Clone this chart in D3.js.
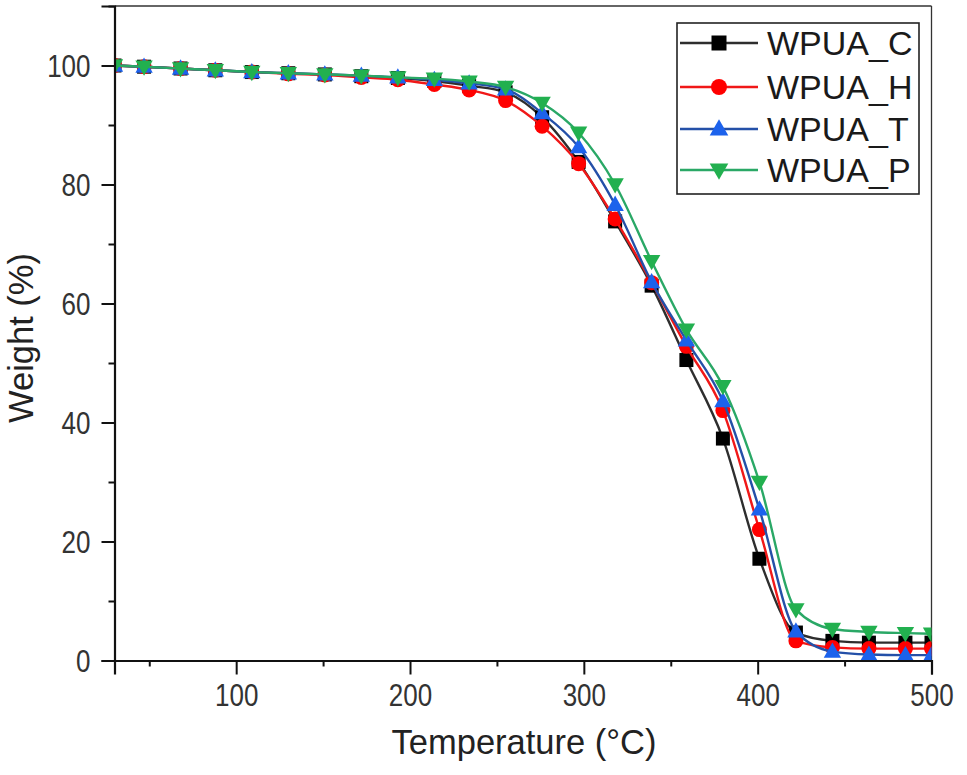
<!DOCTYPE html>
<html>
<head>
<meta charset="utf-8">
<script src="https://cdn.jsdelivr.net/npm/d3@7"></script>
<style>
  html, body { margin: 0; padding: 0; background: #fff; }
  svg { display: block; font-family: "Liberation Sans", Arial, sans-serif; }
</style>
</head>
<body>
<svg id="chart" width="967" height="775"></svg>
<script>
// ---- data ----
const temps  = [30, 47, 68, 88, 109, 130, 151, 172, 193, 214, 234, 255, 276, 297, 318, 339, 359, 380, 401, 422, 443, 464, 485, 500];
const wpuaC  = [100, 99.8, 99.5, 99.2, 98.9, 98.7, 98.5, 98.2, 97.9, 97.4, 96.6, 95.5, 91.3, 83.8, 73.8, 63.0, 50.5, 37.3, 17.1, 4.7, 3.3, 3.0, 3.0, 3.0];
const wpuaH  = [100, 99.8, 99.5, 99.2, 98.9, 98.6, 98.4, 98.0, 97.6, 96.8, 95.9, 94.1, 89.8, 83.5, 74.2, 63.5, 52.8, 42.0, 22.0, 3.3, 2.2, 2.0, 2.0, 2.0];
const wpuaT  = [100, 99.8, 99.5, 99.2, 98.9, 98.7, 98.5, 98.3, 98.0, 97.6, 97.0, 96.0, 92.0, 86.3, 76.6, 63.6, 53.8, 43.6, 25.4, 4.9, 1.5, 1.0, 0.9, 0.9];
const wpuaP  = [100, 99.8, 99.5, 99.2, 98.9, 98.7, 98.5, 98.3, 98.0, 97.8, 97.3, 96.4, 93.7, 88.7, 80.0, 67.1, 55.6, 46.1, 30.0, 8.6, 5.3, 4.8, 4.6, 4.5];
const seriesNames = ["WPUA_C", "WPUA_H", "WPUA_T", "WPUA_P"];
const xTicks = [100, 200, 300, 400, 500];
const xMinor = [50, 150, 250, 350, 450];
const yTicks = [0, 20, 40, 60, 80, 100];
const yMinor = [10, 30, 50, 70, 90, 110];

const seriesValues = [wpuaC, wpuaH, wpuaT, wpuaP];
const lineColors   = ["#2e2e2e", "#f01818", "#2450a8", "#2aa866"];
const markerColors = ["#000000", "#ff0000", "#1c62ec", "#22b04f"];
const markerTypes  = ["square", "circle", "triangle", "down"];

// ---- layout ----
const svg = d3.select("#chart");
const L = 114.5, R = 931.5, T = 6, B = 660.5;
const x = d3.scaleLinear().domain([30, 500]).range([L, R]);
const y = d3.scaleLinear().domain([0, 110]).range([B, T]);

svg.append("defs").append("clipPath").attr("id", "plotclip")
  .append("rect").attr("x", L).attr("y", T).attr("width", R - L).attr("height", B - T);

// frame top/right
svg.append("line").attr("x1", L).attr("x2", R).attr("y1", T).attr("y2", T)
  .attr("stroke", "#333").attr("stroke-width", 1.3);
svg.append("line").attr("x1", R).attr("x2", R).attr("y1", T).attr("y2", B)
  .attr("stroke", "#333").attr("stroke-width", 1.3);

// ---- series ----
const lineGen = d3.line()
  .x((d, i) => x(temps[i]))
  .y(d => y(d))
  .curve(d3.curveMonotoneX);

function drawMarker(g, type, cx, cy, color, s) {
  if (type === "square") {
    g.append("rect").attr("x", cx - s / 2).attr("y", cy - s / 2).attr("width", s).attr("height", s).attr("fill", color);
  } else if (type === "circle") {
    g.append("circle").attr("cx", cx).attr("cy", cy).attr("r", s / 2 + 0.5).attr("fill", color);
  } else if (type === "triangle") {
    const h = s * 1.05;
    g.append("path").attr("d", `M${cx},${cy - h * 0.62}L${cx + s * 0.62},${cy + h * 0.42}L${cx - s * 0.62},${cy + h * 0.42}Z`).attr("fill", color);
  } else {
    const h = s * 1.05;
    g.append("path").attr("d", `M${cx},${cy + h * 0.62}L${cx + s * 0.62},${cy - h * 0.42}L${cx - s * 0.62},${cy - h * 0.42}Z`).attr("fill", color);
  }
}

const plot = svg.append("g").attr("clip-path", "url(#plotclip)");
seriesValues.forEach((vals, si) => {
  const g = plot.append("g");
  g.append("path").datum(vals).attr("d", lineGen)
    .attr("fill", "none").attr("stroke", lineColors[si]).attr("stroke-width", 2.4);
  vals.forEach((v, i) => drawMarker(g, markerTypes[si], x(temps[i]), y(v), markerColors[si], 14));
});

// ---- axes ----
const xAxis = svg.append("g").attr("transform", `translate(0,${B})`)
  .call(d3.axisBottom(x).tickValues(xTicks).tickSize(14).tickFormat(d3.format("d")));
svg.append("g").attr("transform", `translate(0,${B})`)
  .call(d3.axisBottom(x).tickValues(xMinor).tickSize(6).tickFormat(""))
  .call(g => g.select(".domain").remove());
const yAxis = svg.append("g").attr("transform", `translate(${L},0)`)
  .call(d3.axisLeft(y).tickValues(yTicks).tickSize(13).tickFormat(d3.format("d")));
svg.append("g").attr("transform", `translate(${L},0)`)
  .call(d3.axisLeft(y).tickValues(yMinor).tickSize(6).tickFormat(""))
  .call(g => g.select(".domain").remove());

svg.selectAll(".domain").attr("stroke", "#111").attr("stroke-width", 2.2);
svg.selectAll(".tick line").attr("stroke", "#111").attr("stroke-width", 2);

xAxis.selectAll(".tick text")
  .attr("y", 0).attr("dy", null)
  .attr("transform", "translate(0,45) scale(1,1.2)")
  .attr("font-size", 26).attr("fill", "#333").attr("font-family", "Liberation Sans, Arial, sans-serif");
yAxis.selectAll(".tick text")
  .attr("x", 0).attr("dy", null)
  .attr("dominant-baseline", "central")
  .attr("transform", "translate(-24,0) scale(1,1.2)")
  .attr("font-size", 26).attr("fill", "#333").attr("font-family", "Liberation Sans, Arial, sans-serif");

// ---- axis titles ----
svg.append("text").attr("x", 524).attr("y", 754)
  .attr("text-anchor", "middle").attr("font-size", 34.5).attr("fill", "#222")
  .text("Temperature (°C)");
svg.append("text").attr("transform", "translate(33,338) rotate(-90)")
  .attr("text-anchor", "middle").attr("font-size", 34.5).attr("fill", "#222")
  .text("Weight (%)");

// ---- legend ----
const lg = svg.append("g");
lg.append("rect").attr("x", 677).attr("y", 23).attr("width", 242).attr("height", 171)
  .attr("fill", "#fff").attr("stroke", "#222").attr("stroke-width", 1.6);
const rowY = [43, 87, 129, 170];
seriesNames.forEach((name, i) => {
  lg.append("line").attr("x1", 680).attr("x2", 758).attr("y1", rowY[i]).attr("y2", rowY[i])
    .attr("stroke", lineColors[i]).attr("stroke-width", 2.4);
  drawMarker(lg, markerTypes[i], 719, rowY[i], markerColors[i], 15);
  lg.append("text").attr("x", 767).attr("y", rowY[i] + 12)
    .attr("font-size", 34).attr("fill", "#1a1a1a").text(name);
});
</script>
</body>
</html>
